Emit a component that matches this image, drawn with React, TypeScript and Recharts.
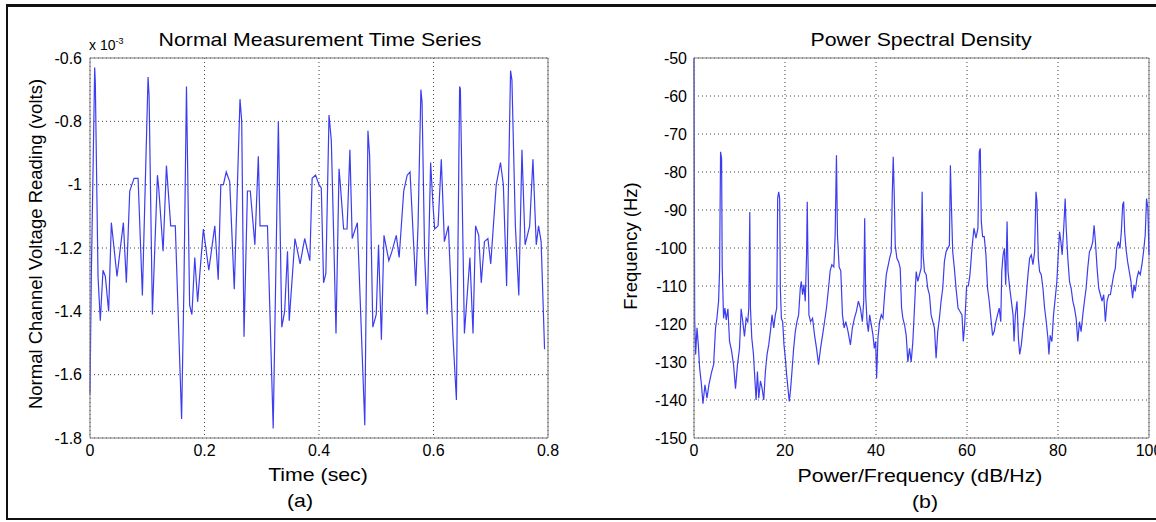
import React from "react";
import { LineChart, Line, XAxis, YAxis, CartesianGrid, ReferenceLine } from "recharts";

// (a) time series, volts x 10^-3, split in two halves as [sec, value]
const seriesFirstHalf = [
  [0, -1.66], [0.0023, -1.29], [0.0082, -0.63], [0.0093, -0.68], [0.014, -1.29], [0.018, -1.43],
  [0.0227, -1.27], [0.0268, -1.29], [0.0326, -1.4], [0.0373, -1.12], [0.0472, -1.29], [0.0583, -1.12],
  [0.0635, -1.31], [0.0694, -1.02], [0.077, -0.98], [0.084, -0.98], [0.0915, -1.35], [0.1014, -0.66],
  [0.1032, -0.72], [0.109, -1.41], [0.1178, -0.97], [0.12, -1.01], [0.1277, -1.21], [0.1335, -0.94],
  [0.141, -1.13], [0.149, -1.13], [0.16, -1.74], [0.164, -1.33], [0.1685, -0.69], [0.169, -0.75],
  [0.174, -1.38], [0.178, -1.41], [0.183, -1.23], [0.188, -1.37], [0.198, -1.14], [0.2075, -1.27],
  [0.218, -1.13], [0.224, -1.3], [0.2285, -1.0], [0.233, -1.0], [0.238, -0.96], [0.244, -0.99],
  [0.252, -1.33], [0.262, -0.73], [0.265, -0.8], [0.269, -1.48], [0.275, -1.02], [0.28, -1.02],
  [0.288, -1.19], [0.294, -0.91], [0.297, -1.13], [0.31, -1.13], [0.32, -1.77], [0.329, -0.8],
  [0.335, -1.45], [0.34, -1.4], [0.345, -1.21], [0.348, -1.43], [0.358, -1.17], [0.367, -1.25],
  [0.375, -1.17], [0.384, -1.24], [0.388, -0.98], [0.394, -0.97],
];
const seriesSecondHalf = [
  [0.4, -1.0], [0.404, -1.01], [0.408, -1.31], [0.412, -1.28], [0.4175, -0.78], [0.4215, -0.86],
  [0.4256, -1.16], [0.4297, -1.47], [0.435, -0.95], [0.4373, -1.0], [0.443, -1.14], [0.449, -1.14],
  [0.454, -0.89], [0.458, -1.17], [0.467, -1.12], [0.48, -1.76], [0.4855, -0.83], [0.4885, -0.91],
  [0.494, -1.45], [0.5, -1.41], [0.504, -1.19], [0.509, -1.49], [0.5135, -1.16], [0.522, -1.24],
  [0.5275, -1.21], [0.535, -1.16], [0.54, -1.23], [0.548, -1.02], [0.554, -0.97], [0.559, -0.96],
  [0.569, -1.32], [0.573, -1.13], [0.578, -0.7], [0.58, -0.74], [0.5845, -1.22], [0.589, -1.41],
  [0.595, -0.93], [0.599, -1.06], [0.602, -1.14], [0.608, -1.13], [0.6136, -0.92], [0.619, -1.18],
  [0.626, -1.13], [0.634, -1.48], [0.64, -1.68], [0.6456, -0.69], [0.647, -0.7], [0.654, -1.47],
  [0.6636, -1.23], [0.669, -1.47], [0.6735, -1.13], [0.679, -1.16], [0.6834, -1.31], [0.689, -1.18],
  [0.695, -1.17], [0.7, -1.25], [0.7096, -1.0], [0.717, -0.93], [0.722, -1.0], [0.7277, -1.32],
  [0.7346, -0.64], [0.737, -0.67], [0.743, -1.13], [0.749, -1.35], [0.7545, -0.89], [0.76, -1.19],
  [0.768, -1.13], [0.7737, -0.92], [0.7795, -1.19], [0.7835, -1.13], [0.788, -1.18], [0.794, -1.52],
];

// (b) PSD as [Hz, dB/Hz]
const psdLow = [
  [0, -50], [0.15, -119], [0.36, -128], [0.66, -121], [0.95, -125.5], [1.24, -131.6], [1.61, -135.6],
  [1.97, -141], [2.41, -136], [2.85, -139.5], [3.28, -136], [3.8, -133], [4.31, -130.7], [4.74, -121],
  [5.04, -118.5], [5.4, -114], [5.62, -106], [5.84, -74.7], [6.06, -76.4], [6.2, -105], [6.5, -118.5],
  [6.79, -115.8], [7.08, -118.9], [7.45, -116], [7.81, -124.6], [8.25, -127], [8.69, -130.7], [9.12, -137],
  [9.56, -130.7], [10.0, -126.4], [10.36, -116], [10.73, -119.4], [11.09, -123.3], [11.46, -118.5],
  [11.82, -119.4], [12.04, -115.8], [12.26, -90.5], [12.41, -115.8], [12.7, -123.7], [13.07, -128],
  [13.36, -134.2], [13.65, -140], [13.94, -132.5], [14.23, -139.5], [14.6, -135], [14.96, -136.9],
  [15.33, -140], [15.69, -132.5], [16.06, -128], [16.42, -125.5], [16.79, -122], [17.15, -117.6],
  [17.52, -121], [17.88, -117.6], [18.18, -115.8], [18.39, -87], [18.61, -85.2], [18.83, -87],
  [18.98, -110.6], [19.2, -118.5], [19.49, -119.4], [19.78, -125.5], [20.07, -129], [20.36, -133.4],
  [20.66, -137], [20.95, -140.4], [21.24, -137], [21.53, -132.5], [21.9, -126.4], [22.26, -122],
  [22.63, -119.4], [22.99, -117.6], [23.36, -110.6], [23.58, -108.8], [23.87, -112.3], [24.16, -109.7],
  [24.45, -114], [24.74, -101.8], [24.89, -87.8], [25.04, -101.8], [25.26, -117.6], [25.62, -119.4],
  [26.06, -118.5], [26.5, -123], [26.93, -126.4], [27.37, -130.7], [27.81, -126.4], [28.25, -123],
  [28.69, -119.4], [29.12, -115.8], [29.56, -110.6], [29.93, -106], [30.29, -104.4], [30.73, -105],
  [31.02, -96.6], [31.31, -75.6], [31.53, -96.6], [31.9, -105], [32.26, -106], [32.63, -117.6],
  [32.99, -121], [33.36, -119.4],
];
const psdMid = [
  [33.86, -122], [34.38, -125.5], [34.81, -121], [35.25, -118.5], [35.69, -116.7], [36.13, -114],
  [36.57, -115.8], [37.0, -119.4], [37.3, -114], [37.51, -92.2], [37.73, -112.3], [38.03, -119.4],
  [38.32, -122], [38.61, -117.6], [38.97, -120.2], [39.34, -123], [39.63, -126.4], [39.92, -124.6],
  [40.14, -134.2], [40.43, -123.7], [40.8, -119.4], [41.16, -117.6], [41.53, -118.5], [41.89, -112.3],
  [42.26, -107], [42.62, -104.9], [42.99, -102.7], [43.35, -101], [43.57, -86], [43.79, -76], [44.01, -86],
  [44.23, -99.3], [44.59, -102.7], [44.96, -103.6], [45.32, -105.3], [45.62, -115.8], [45.91, -118.5],
  [46.27, -120.2], [46.64, -123], [47.0, -130], [47.37, -126.4], [47.73, -130], [48.1, -124.6],
  [48.46, -115.8], [48.83, -106.2], [49.19, -108.8], [49.56, -107], [49.92, -105.3], [50.14, -85.2],
  [50.36, -101.8], [50.65, -106.2], [51.02, -107], [51.38, -110.6], [51.75, -112.3], [52.11, -117.6],
  [52.48, -119.4], [52.84, -121], [53.21, -129], [53.57, -122], [53.94, -118.5], [54.3, -114],
  [54.67, -110.6], [55.03, -103.6], [55.4, -101], [55.76, -100.1], [56.13, -99.3], [56.35, -78.2],
  [56.57, -88.7], [56.86, -101], [57.22, -105.3], [57.59, -110.6], [58.03, -115.8], [58.46, -116.7],
  [58.9, -117.6], [59.19, -124.6], [59.49, -120.2], [59.92, -110], [60.29, -110], [60.65, -107],
  [61.09, -100.1], [61.53, -94.8], [61.97, -97.4], [62.4, -94.8], [62.7, -74.7], [62.92, -73.8],
  [63.14, -93], [63.43, -97], [63.79, -97], [64.16, -101.8], [64.52, -110.6], [64.89, -114],
  [65.25, -118.5], [65.62, -123], [65.98, -122], [66.35, -119.4], [66.71, -117.6], [67.08, -115.8],
];
const psdHigh = [
  [67.42, -119.4], [67.64, -106.2], [67.93, -101.8], [68.22, -100.1], [68.51, -109.7], [68.81, -93],
  [69.02, -106.2], [69.39, -110.6], [69.75, -114], [70.12, -117.6], [70.34, -124.6], [70.63, -117.6],
  [70.99, -114], [71.29, -123.7], [71.58, -128], [71.94, -125.5], [72.31, -121], [72.67, -117.6],
  [73.04, -112.3], [73.4, -107], [73.77, -102.7], [74.13, -101.8], [74.5, -104.4], [74.86, -101],
  [75.16, -85.2], [75.38, -87.8], [75.67, -102.7], [75.96, -106.2], [76.32, -107], [76.69, -110.6],
  [77.05, -115.8], [77.42, -119.4], [77.78, -123.7], [78.0, -128], [78.29, -123], [78.66, -124.6],
  [79.02, -117.6], [79.39, -113.2], [79.75, -108.8], [80.05, -101.8], [80.34, -95.7], [80.63, -98.3],
  [80.92, -101.8], [81.29, -94], [81.58, -87], [81.8, -94.8], [82.16, -102.7], [82.53, -108.8],
  [82.89, -110.6], [83.26, -114], [83.62, -115.8], [83.99, -118.5], [84.35, -124.6], [84.72, -119.4],
  [85.08, -122], [85.45, -117.6], [85.81, -114], [86.18, -110.6], [86.54, -105.3], [86.91, -101],
  [87.27, -100.1], [87.64, -98.3], [87.93, -94], [88.22, -98.3], [88.59, -105.3], [88.95, -110.6],
  [89.32, -112.3], [89.68, -114], [90.05, -112.3], [90.41, -119.4], [90.78, -114], [91.14, -112.3],
  [91.51, -112.3], [91.87, -109.7], [92.24, -107], [92.6, -105.3], [92.89, -100.1], [93.26, -98.3],
  [93.62, -100.1], [93.92, -95.7], [94.21, -88.7], [94.43, -87.8], [94.65, -95.7], [94.94, -100.1],
  [95.3, -103.6], [95.67, -106.2], [96.03, -108.8], [96.4, -113.2], [96.69, -109.7], [96.98, -111.4],
  [97.35, -107.9], [97.71, -106.2], [98.08, -107], [98.44, -104.4], [98.8, -101], [99.17, -96.6],
  [99.46, -87], [99.75, -89.6], [100, -101.8],
];

const timeTicks = [0, 0.2, 0.4, 0.6, 0.8];
const voltTicks = [-0.6, -0.8, -1, -1.2, -1.4, -1.6, -1.8];
const freqTicks = [0, 20, 40, 60, 80, 100];
const powerTicks = [-50, -60, -70, -80, -90, -100, -110, -120, -130, -140, -150];

const timeData = [...seriesFirstHalf, ...seriesSecondHalf].map(([t, v]) => ({ t, v }));
const psdData = [...psdLow, ...psdMid, ...psdHigh].map(([f, p]) => ({ f, p }));

const FONT = "'Liberation Sans', Arial, Helvetica, sans-serif";
const LINE = "#3d3df0";
const BOX = "#7a7a7a";
const tickStyle = { fill: "#000", fontSize: 16, fontFamily: FONT };

const Text = ({ x, y, size = 18.5, rotate = false, children }: any) => (
  <div
    style={{
      position: "absolute",
      left: x,
      top: y,
      fontSize: size,
      lineHeight: 1,
      whiteSpace: "nowrap",
      color: "#000",
      transform: rotate ? "translate(-50%,-50%) rotate(-90deg)" : "translate(-50%,-50%) scaleX(1.15)",
    }}
  >
    {children}
  </div>
);

export default function App() {
  return (
    <div style={{ position: "absolute", left: 0, top: 0, width: 1156, height: 522, background: "#fff", fontFamily: FONT, overflow: "hidden" }}>
      <div
        style={{
          position: "absolute", left: 6, top: 4, width: 1150, height: 516, boxSizing: "border-box",
          borderTop: "3px solid #111", borderLeft: "2px solid #111", borderBottom: "2px solid #111",
        }}
      />

      <div style={{ position: "absolute", left: 0, top: 0 }}>
        <LineChart width={580} height={522} data={timeData} margin={{ top: 58, right: 32, bottom: 54, left: 40 }}>
          <CartesianGrid stroke="#444" strokeDasharray="1 3" />
          <XAxis
            dataKey="t" type="number" domain={[0, 0.8]} ticks={timeTicks} interval={0} height={30}
            tick={tickStyle} tickLine={false} tickSize={0} tickMargin={7} axisLine={{ stroke: BOX }}
          />
          <YAxis
            type="number" domain={[-1.8, -0.6]} ticks={voltTicks} interval={0} width={50} allowDataOverflow
            tick={tickStyle} tickLine={false} tickSize={0} tickMargin={8} axisLine={{ stroke: BOX }}
          />
          <ReferenceLine y={-0.6} stroke={BOX} />
          <ReferenceLine x={0.8} stroke={BOX} />
          <Line dataKey="v" type="linear" stroke={LINE} strokeWidth={1.2} dot={false} isAnimationActive={false} />
        </LineChart>
      </div>

      <div style={{ position: "absolute", left: 580, top: 0 }}>
        <LineChart width={576} height={522} data={psdData} margin={{ top: 58, right: 7, bottom: 54, left: 54 }}>
          <CartesianGrid stroke="#444" strokeDasharray="1 3" />
          <XAxis
            dataKey="f" type="number" domain={[0, 100]} ticks={freqTicks} interval={0} height={30}
            tick={tickStyle} tickLine={false} tickSize={0} tickMargin={7} axisLine={{ stroke: BOX }}
          />
          <YAxis
            type="number" domain={[-150, -50]} ticks={powerTicks} interval={0} width={60} allowDataOverflow
            tick={tickStyle} tickLine={false} tickSize={0} tickMargin={7} axisLine={{ stroke: BOX }}
          />
          <ReferenceLine y={-50} stroke={BOX} />
          <ReferenceLine x={100} stroke={BOX} />
          <Line dataKey="p" type="linear" stroke={LINE} strokeWidth={1.2} dot={false} isAnimationActive={false} />
        </LineChart>
      </div>

      <div style={{ position: "absolute", left: 89, top: 37, fontSize: 14, lineHeight: 1, whiteSpace: "nowrap" }}>
        x 10<sup style={{ fontSize: 9 }}>-3</sup>
      </div>
      <Text x={320} y={40}>Normal Measurement Time Series</Text>
      <Text x={36} y={244} rotate>Normal Channel Voltage Reading (volts)</Text>
      <Text x={318} y={475}>Time (sec)</Text>
      <Text x={300} y={501}>(a)</Text>

      <Text x={921} y={40}>Power Spectral Density</Text>
      <Text x={631} y={246} rotate>Frequency (Hz)</Text>
      <Text x={920} y={476}>Power/Frequency (dB/Hz)</Text>
      <Text x={925} y={502}>(b)</Text>
    </div>
  );
}
